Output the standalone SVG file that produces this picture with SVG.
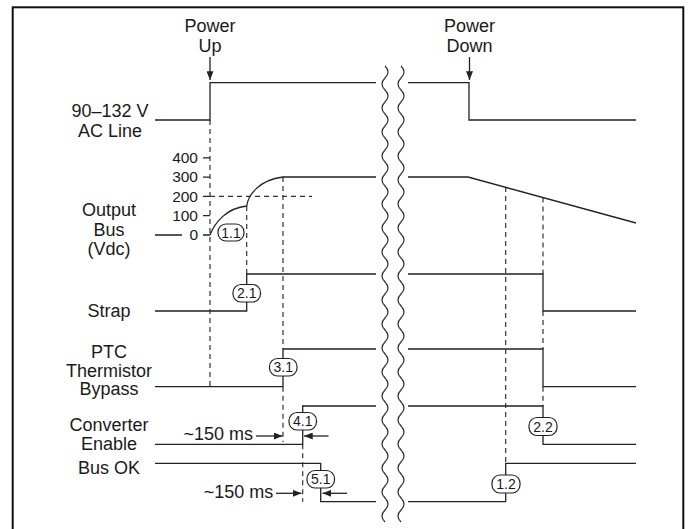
<svg xmlns="http://www.w3.org/2000/svg" width="688" height="529" viewBox="0 0 688 529">
<defs>
<style>
.t{font-family:"Liberation Sans",Arial,Helvetica,sans-serif;font-size:18px;fill:#1a1a1a;text-anchor:middle}
.n{font-family:"Liberation Sans",Arial,Helvetica,sans-serif;font-size:15.5px;fill:#1a1a1a;text-anchor:end}
.b{font-family:"Liberation Sans",Arial,Helvetica,sans-serif;font-size:14px;fill:#1a1a1a;text-anchor:middle}
.s{fill:none;stroke:#222;stroke-width:1.3}
.d{fill:none;stroke:#333;stroke-width:1.2;stroke-dasharray:5 4}
.w{fill:none;stroke:#333;stroke-width:1.2}
.bg{fill:#fff;stroke:#222;stroke-width:1.2}
.a{fill:none;stroke:#222;stroke-width:1.3;marker-end:url(#ah)}
</style>
<marker id="ah" viewBox="0 0 10 8" refX="10" refY="4" markerWidth="9" markerHeight="7" orient="auto" markerUnits="userSpaceOnUse"><path d="M0,0 L10,4 L0,8 z" fill="#222"/></marker>
</defs>
<rect x="0" y="0" width="688" height="529" fill="#fff"/>
<rect x="12.7" y="7.3" width="670.6" height="530" fill="none" stroke="#111" stroke-width="2"/>

<g id="grid">
<path class="d" d="M210,120 V386.7"/>
<path class="d" d="M246.7,206 V274"/>
<path class="d" d="M283,177 V349 M283,386.7 V442"/>
<path class="d" d="M302.7,444.3 V501.7"/>
<path class="d" d="M210,196.4 H312"/>
<path class="d" d="M505.7,187 V463.3"/>
<path class="d" d="M543,197.5 V274 M543,311 V349 M543,386.7 V406"/>
</g>

<g id="breaks">
<path class="w" d="M385,66 q6,6 0,12 t0,12 t0,12 t0,12 t0,12 t0,12 t0,12 t0,12 t0,12 t0,12 t0,12 t0,12 t0,12 t0,12 t0,12 t0,12 t0,12 t0,12 t0,12 t0,12 t0,12 t0,12 t0,12 t0,12 t0,12 t0,12 t0,12 t0,12 t0,12 t0,12 t0,12 t0,12 t0,12 t0,12 t0,12 t0,12 t0,12 t0,12"/>
<path class="w" d="M401,66 q6,6 0,12 t0,12 t0,12 t0,12 t0,12 t0,12 t0,12 t0,12 t0,12 t0,12 t0,12 t0,12 t0,12 t0,12 t0,12 t0,12 t0,12 t0,12 t0,12 t0,12 t0,12 t0,12 t0,12 t0,12 t0,12 t0,12 t0,12 t0,12 t0,12 t0,12 t0,12 t0,12 t0,12 t0,12 t0,12 t0,12 t0,12 t0,12"/>
</g>

<g id="power-up">
<text class="t" x="210" y="32">Power</text>
<text class="t" x="210" y="52">Up</text>
<path class="a" d="M210,57 V80"/>
</g>
<g id="power-down">
<text class="t" x="469.5" y="32">Power</text>
<text class="t" x="469.5" y="52">Down</text>
<path class="a" d="M469.5,57 V80"/>
</g>

<g id="ac-line">
<text class="t" x="110" y="117.3">90–132 V</text>
<text class="t" x="110" y="136.8">AC Line</text>
<path class="s" d="M155,120 H210 V82.7 H376 M408,82.7 H469 V120 H636"/>
</g>

<g id="output-bus">
<text class="t" x="109" y="216">Output</text>
<text class="t" x="109" y="235.5">Bus</text>
<text class="t" x="109" y="254.5">(Vdc)</text>
<text class="n" x="198" y="163.2">400</text>
<text class="n" x="198" y="182.4">300</text>
<text class="n" x="198" y="201.7">200</text>
<text class="n" x="198" y="221">100</text>
<text class="n" x="198" y="240.3">0</text>
<path class="s" d="M203,157.8 H210 M203,177.1 H210 M203,196.4 H210 M203,215.7 H210 M203,235 H210 M155,235 H182"/>
<path class="s" d="M210,235 C215,222 227,208 246.7,206 C248,196 258,180 283,177 H376 M408,177 H468 L636,223"/>
<rect class="bg" x="218" y="224" width="26" height="17" rx="8"/>
<text class="b" x="231" y="237.5">1.1</text>
</g>

<g id="strap">
<text class="t" x="109" y="316.5">Strap</text>
<path class="s" d="M155,311 H246.7 V274 H376 M408,274 H543 V311 H636"/>
<rect class="bg" x="233" y="284.5" width="27.5" height="17.5" rx="8"/>
<text class="b" x="246.7" y="298.3">2.1</text>
</g>

<g id="ptc">
<text class="t" x="109" y="357.5">PTC</text>
<text class="t" x="109" y="376.5">Thermistor</text>
<text class="t" x="109" y="395">Bypass</text>
<path class="s" d="M155,386.7 H283 V349 H376 M408,349 H543 V386.7 H636"/>
<rect class="bg" x="269.5" y="358.5" width="27.5" height="17.5" rx="8"/>
<text class="b" x="283.3" y="372.3">3.1</text>
</g>

<g id="converter-enable">
<text class="t" x="109" y="431">Converter</text>
<text class="t" x="109" y="450">Enable</text>
<path class="s" d="M155,444.3 H302.7 V406 H376 M408,406 H543 V444.3 H636"/>
<rect class="bg" x="289" y="412.5" width="27.5" height="17.5" rx="8"/>
<text class="b" x="302.7" y="426.3">4.1</text>
<rect class="bg" x="529" y="417.5" width="28" height="18" rx="8"/>
<text class="b" x="543" y="431.5">2.2</text>
<text class="t" x="253" y="439.5" style="text-anchor:end">~150 ms</text>
<path class="a" d="M256,436 H282.5"/>
<path class="a" d="M328.5,436 H304"/>
</g>

<g id="bus-ok">
<text class="t" x="109" y="473.5">Bus OK</text>
<path class="s" d="M155,463.3 H320.7 V501.7 H376 M408,501.7 H505.7 V463.3 H636"/>
<rect class="bg" x="307" y="470.5" width="27.5" height="17.5" rx="8"/>
<text class="b" x="320.7" y="484.3">5.1</text>
<rect class="bg" x="492" y="475" width="28" height="18" rx="8"/>
<text class="b" x="506" y="489">1.2</text>
<text class="t" x="273.3" y="497.5" style="text-anchor:end">~150 ms</text>
<path class="a" d="M276,493.3 H301.5"/>
<path class="a" d="M347,493.3 H322.5"/>
</g>
</svg>
